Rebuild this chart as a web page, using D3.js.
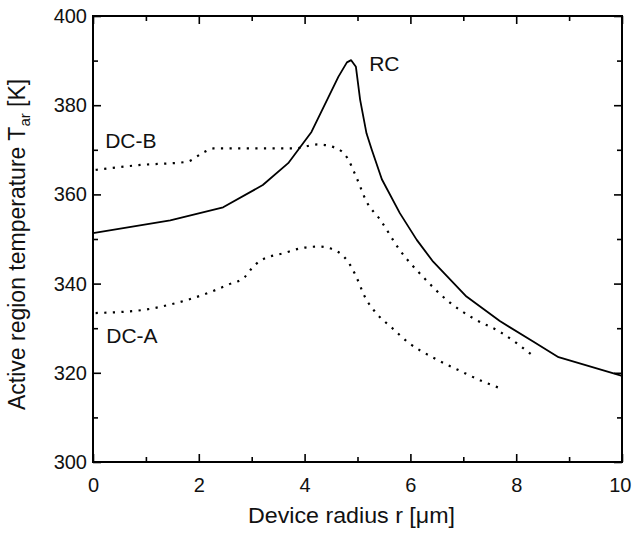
<!DOCTYPE html>
<html>
<head>
<meta charset="utf-8">
<script src="https://cdn.jsdelivr.net/npm/d3@7"></script>
<style>
  html, body { margin: 0; padding: 0; background: #fff; }
  svg { display: block; font-family: "Liberation Sans", Arial, Helvetica, sans-serif; }
</style>
</head>
<body>
<svg id="chart" width="632" height="541"></svg>
<script>
// ---- data ----
const rcR = [0, 1.46, 2.46, 3.21, 3.69, 4.13, 4.64, 4.80, 4.88, 4.97, 5.05, 5.17, 5.27, 5.46, 5.80, 6.12, 6.43, 7.06, 7.69, 8.32, 8.80, 10];
const rcT = [351.3, 354.2, 357.1, 362.1, 367.0, 374.0, 386.4, 389.6, 390.1, 388.6, 381.2, 373.7, 370.0, 363.4, 355.8, 349.8, 344.9, 337.1, 331.6, 327.0, 323.5, 319.3];

const dcbR = [0.05, 0.9, 1.77, 2.09, 2.28, 3.0, 3.79, 4.26, 4.61, 4.80, 4.98, 5.17, 5.43, 5.80, 6.24, 6.69, 7.19, 7.69, 8.32];
const dcbT = [365.5, 366.6, 367.3, 369.4, 370.3, 370.3, 370.3, 371.2, 370.3, 368.3, 363.8, 358.4, 354.3, 347.5, 341.5, 336.3, 332.2, 329.2, 323.8];

const dcaR = [0.05, 0.95, 1.42, 1.77, 2.24, 2.56, 2.87, 3.0, 3.16, 3.63, 3.92, 4.26, 4.42, 4.57, 4.73, 4.86, 4.95, 5.03, 5.10, 5.20, 5.33, 5.65, 5.96, 6.43, 6.91, 7.38, 7.73];
const dcaT = [333.4, 334.1, 335.2, 336.3, 338.2, 339.8, 341.5, 343.4, 345.1, 346.9, 347.9, 348.3, 348.1, 347.5, 346.2, 344.2, 342.2, 340.1, 338.0, 335.8, 333.7, 330.1, 326.8, 323.4, 320.6, 318.0, 316.4];

const xMajor = [0, 2, 4, 6, 8, 10];
const xMinor = [1, 3, 5, 7, 9];
const yMajor = [300, 320, 340, 360, 380, 400];
const yMinor = [310, 330, 350, 370, 390];

const curveLabels = [
  { text: "RC",   r: 5.22, T: 387.7 },
  { text: "DC-B", r: 0.23, T: 370.4 },
  { text: "DC-A", r: 0.25, T: 326.7 }
];

// ---- layout ----
const svg = d3.select("#chart");
const x = d3.scaleLinear().domain([0, 10]).range([93, 622]);
const y = d3.scaleLinear().domain([300, 400]).range([462, 16]);
const X0 = x(0), X1 = x(10), Y0 = y(300), Y1 = y(400);

// frame
svg.append("rect")
  .attr("x", X0).attr("y", Y1)
  .attr("width", X1 - X0).attr("height", Y0 - Y1)
  .attr("fill", "none").attr("stroke", "#000").attr("stroke-width", 2);

function styleAxis(g) {
  g.select(".domain").remove();
  g.selectAll(".tick line").attr("stroke", "#000").attr("stroke-width", 1.6);
}
const fmt = d3.format("d");
const labelStyle = g => g.selectAll("text").attr("font-size", 20).attr("fill", "#111")
  .attr("font-family", "Liberation Sans, Arial, sans-serif");

// bottom
svg.append("g").attr("transform", `translate(0,${Y0})`)
  .call(d3.axisBottom(x).tickValues(xMajor).tickSizeInner(-8).tickSizeOuter(0).tickPadding(16).tickFormat(fmt))
  .call(styleAxis).call(labelStyle)
  .call(g => g.selectAll("text").filter(d => d === 10).attr("text-anchor", "end").attr("dx", 9));
svg.append("g").attr("transform", `translate(0,${Y0})`)
  .call(d3.axisBottom(x).tickValues(xMinor).tickSizeInner(-5).tickSizeOuter(0).tickFormat(""))
  .call(styleAxis);
// top
svg.append("g").attr("transform", `translate(0,${Y1})`)
  .call(d3.axisTop(x).tickValues(xMajor).tickSizeInner(-8).tickSizeOuter(0).tickFormat(""))
  .call(styleAxis);
svg.append("g").attr("transform", `translate(0,${Y1})`)
  .call(d3.axisTop(x).tickValues(xMinor).tickSizeInner(-5).tickSizeOuter(0).tickFormat(""))
  .call(styleAxis);
// left
svg.append("g").attr("transform", `translate(${X0},0)`)
  .call(d3.axisLeft(y).tickValues(yMajor).tickSizeInner(-8).tickSizeOuter(0).tickPadding(6).tickFormat(fmt))
  .call(styleAxis).call(labelStyle);
svg.append("g").attr("transform", `translate(${X0},0)`)
  .call(d3.axisLeft(y).tickValues(yMinor).tickSizeInner(-5).tickSizeOuter(0).tickFormat(""))
  .call(styleAxis);
// right
svg.append("g").attr("transform", `translate(${X1},0)`)
  .call(d3.axisRight(y).tickValues(yMajor).tickSizeInner(-8).tickSizeOuter(0).tickFormat(""))
  .call(styleAxis);
svg.append("g").attr("transform", `translate(${X1},0)`)
  .call(d3.axisRight(y).tickValues(yMinor).tickSizeInner(-5).tickSizeOuter(0).tickFormat(""))
  .call(styleAxis);

// ---- curves ----
const zip = (R, T) => R.map((r, i) => [r, T[i]]);
const lineLin = d3.line().x(d => x(d[0])).y(d => y(d[1]));
const lineSmooth = d3.line().x(d => x(d[0])).y(d => y(d[1])).curve(d3.curveMonotoneX);

svg.append("path").datum(zip(rcR, rcT))
  .attr("d", lineLin)
  .attr("fill", "none").attr("stroke", "#000").attr("stroke-width", 1.8)
  .attr("stroke-linejoin", "round");

[zip(dcbR, dcbT), zip(dcaR, dcaT)].forEach(data => {
  svg.append("path").datum(data)
    .attr("d", lineSmooth)
    .attr("fill", "none").attr("stroke", "#000").attr("stroke-width", 2.2)
    .attr("stroke-dasharray", "2.2,6.4");
});

// curve labels
svg.selectAll("text.clabel").data(curveLabels).join("text")
  .attr("class", "clabel")
  .attr("x", d => x(d.r)).attr("y", d => y(d.T))
  .attr("font-size", 21).attr("fill", "#111")
  .text(d => d.text);

// axis titles
svg.append("text")
  .attr("x", 248).attr("y", 523)
  .attr("font-size", 21.5).attr("fill", "#111")
  .attr("textLength", 207).attr("lengthAdjust", "spacingAndGlyphs")
  .text("Device radius r [μm]");

const yt = svg.append("text")
  .attr("transform", "translate(25,410) rotate(-90)")
  .attr("font-size", 23).attr("fill", "#111");
yt.append("tspan").text("Active region temperature T");
yt.append("tspan").attr("font-size", 15).attr("dy", 5).text("ar");
yt.append("tspan").attr("dy", -5).text(" [K]");
</script>
</body>
</html>
